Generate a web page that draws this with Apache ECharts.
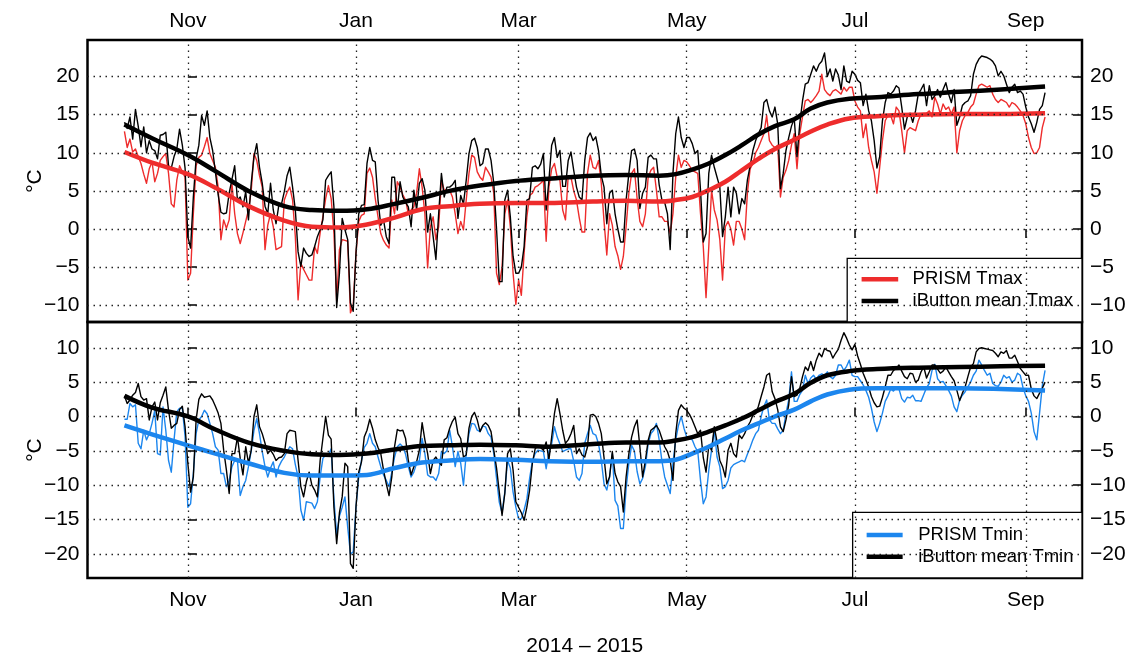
<!DOCTYPE html>
<html>
<head>
<meta charset="utf-8">
<script src="https://cdn.jsdelivr.net/npm/echarts@6/dist/echarts.min.js"></script>
<style>
html,body{margin:0;padding:0;background:#fff;}
#chart{width:1135px;height:660px;}
</style>
</head>
<body>
<div id="chart"></div>
<script>
// ---- data (day offsets counted from 1 Nov 2014) ----
const FIRST_DAY = -23; // 9 Oct 2014, first daily value
const monthTickDays = [0, 61, 120, 181, 242, 304];
const monthTickLabels = ['Nov', 'Jan', 'Mar', 'May', 'Jul', 'Sep'];
const tmaxTicks = [-10, -5, 0, 5, 10, 15, 20];
const tminTicks = [-20, -15, -10, -5, 0, 5, 10];
const xLabel = '2014 \u2013 2015';

const ibuttonTmaxDaily = [
14.0,13.2,14.7,11.8,15.7,13.5,10.8,13.4,10.0,11.6,
10.5,10.3,9.2,12.3,12.4,12.7,8.3,8.0,9.5,10.5,
13.1,11.0,8.0,-1.0,-2.5,4.2,9.2,11.0,14.9,13.6,
15.5,12.0,10.3,7.5,4.5,2.2,2.0,2.1,4.7,6.5,
8.3,3.8,4.2,2.9,4.9,1.2,6.0,9.5,11.2,8.1,
6.0,3.0,2.0,6.0,2.5,0.7,3.1,3.3,4.9,7.0,
8.1,5.5,2.5,-3.0,-4.9,-2.5,-3.2,-3.6,-3.4,-2.3,
-1.0,-0.1,1.2,6.4,7.0,7.5,2.9,-10.3,-5.8,1.4,
-0.1,-1.4,-9.7,-10.8,-3.2,2.0,3.1,3.2,8.6,10.7,
9.0,8.8,3.8,0.5,1.2,-1.0,-1.9,6.8,6.8,2.5,
6.2,4.2,3.5,2.9,0.3,5.1,2.5,6.0,6.6,5.1,
-0.4,2.0,-1.0,-4.0,2.0,7.3,4.2,5.5,5.5,5.8,
6.4,1.4,4.4,3.3,6.4,9.9,11.6,11.9,10.7,8.3,
8.6,10.5,10.5,9.0,6.0,0.0,-6.9,-6.9,3.8,5.1,
1.6,-3.6,-5.8,-5.8,-5.0,-2.3,3.8,4.0,8.1,8.3,
7.9,8.5,9.9,2.5,6.4,11.0,12.0,9.4,10.3,5.6,
5.6,9.0,10.1,7.7,5.5,4.2,3.8,9.0,12.0,12.6,
11.6,12.1,10.3,7.0,5.5,0.7,4.7,5.1,2.0,0.0,
-1.7,-1.7,3.8,7.3,10.3,10.5,9.0,2.7,4.7,5.5,
9.4,9.7,9.2,9.2,5.8,3.8,3.5,2.0,-2.7,7.3,
12.5,14.7,12.0,10.7,12.0,12.0,11.2,9.9,10.3,5.1,
-1.7,-0.6,7.3,9.7,8.1,6.8,5.5,-1.0,1.6,5.5,
1.6,5.5,4.7,2.0,4.0,3.3,6.4,8.3,10.3,11.6,
12.5,13.3,16.6,17.0,15.5,14.7,16.0,13.8,5.3,7.3,
10.3,12.0,13.5,14.5,9.5,13.8,16.8,19.0,19.2,20.3,
21.4,20.7,21.6,22.0,23.1,20.0,21.0,19.4,21.0,20.2,
18.3,21.4,19.4,19.2,20.7,20.3,19.5,19.2,16.2,17.7,
15.5,14.2,11.6,8.0,9.5,14.2,16.6,17.9,17.7,18.1,
18.8,18.5,16.0,13.1,14.7,15.2,14.0,15.5,17.7,18.3,
19.0,16.2,18.8,17.0,17.5,18.3,17.3,18.3,19.2,17.7,
16.6,18.3,13.6,14.7,16.2,16.6,16.8,17.5,20.3,21.6,
22.3,22.7,22.6,22.5,22.3,22.0,21.4,20.1,20.7,20.1,
19.0,17.9,18.6,19.0,17.9,18.1,17.7,16.0,14.7,13.8,
12.7,14.0,15.7,16.2,17.9
];

const prismTmaxDaily = [
12.8,10.7,11.8,10.1,10.5,9.5,8.6,7.2,6.0,7.9,
8.8,6.2,7.3,9.0,9.5,9.9,7.3,3.3,2.9,6.4,
8.3,7.5,6.8,-6.7,-5.8,2.0,8.3,9.4,9.7,10.8,
12.0,9.9,9.0,8.1,5.5,-1.4,1.2,0.1,1.2,6.0,
2.0,-0.6,-1.9,-0.5,1.0,2.5,5.0,9.9,9.0,7.0,
5.5,-2.7,0.5,2.0,0.3,-2.7,-2.5,-2.3,3.8,4.8,
5.5,3.8,-1.0,-9.3,-4.5,-5.3,-6.0,-6.7,-6.7,-2.3,
-3.2,-0.5,1.6,4.0,5.7,4.0,-0.5,-9.5,-2.7,-1.4,
-1.5,-1.6,-11.0,-10.1,-3.2,1.0,1.8,2.0,7.3,8.0,
6.8,4.0,1.6,-0.6,-1.5,-2.1,-2.5,3.8,2.0,6.2,
5.5,4.5,3.8,2.0,2.5,2.9,4.7,7.9,5.5,2.0,
-5.1,0.3,1.6,-1.4,0.3,6.4,5.1,5.1,5.1,4.2,
2.0,-0.6,1.0,-0.1,3.8,7.3,9.7,9.4,7.5,6.8,
6.4,8.1,7.5,6.8,4.7,-5.8,-7.3,-5.0,2.0,3.8,
0.3,-5.8,-9.9,-6.7,-8.7,-3.2,1.6,4.4,4.7,5.5,
5.7,6.0,6.4,-1.6,5.5,7.9,8.6,6.8,6.4,2.5,
1.2,7.0,6.8,5.0,3.8,1.5,-0.4,-0.4,7.3,9.7,
8.1,7.9,9.0,6.0,1.0,-3.4,2.0,0.5,-2.3,-3.5,
-5.3,-3.6,0.3,4.7,7.3,7.9,4.0,1.0,0.3,2.0,
6.8,7.7,8.1,5.1,1.6,1.6,1.0,1.0,-0.6,2.0,
6.8,9.7,8.1,9.0,8.8,8.3,7.7,7.5,7.3,2.0,
-2.3,-9.0,-2.3,5.1,2.5,1.2,-1.4,-6.7,0.3,1.0,
0.0,-2.1,1.0,1.0,0.0,-1.4,4.7,7.9,8.6,10.0,
10.7,11.6,12.5,14.9,11.6,11.0,10.7,11.0,4.2,6.8,
7.7,9.0,11.0,12.5,7.9,12.5,14.7,16.8,17.0,16.6,
17.0,17.5,18.1,20.3,18.3,17.8,17.5,18.1,18.3,18.0,
17.7,18.6,18.1,18.6,18.6,16.8,16.0,15.5,12.0,13.8,
10.7,9.0,7.5,4.7,8.1,11.6,14.2,14.9,14.9,13.8,
16.0,15.5,12.9,10.0,12.9,13.3,13.1,12.9,14.2,15.1,
14.9,15.2,15.5,14.7,17.3,16.4,15.1,16.4,15.7,16.0,
15.1,16.0,10.0,12.9,14.2,14.9,15.3,16.0,16.4,17.7,
18.8,19.0,18.8,18.6,18.8,17.7,17.0,16.6,17.0,16.8,
16.6,16.0,16.6,16.4,16.0,15.5,14.9,13.8,12.0,10.7,
9.9,10.0,10.7,13.3,14.7
];

const ibuttonTminDaily = [
3.0,1.9,2.4,3.1,3.5,4.8,2.9,2.4,2.6,-0.5,
1.4,2.1,-0.5,2.0,3.1,4.3,0.9,-1.7,-1.3,-1.0,
1.0,1.5,-1.5,-6.8,-11.0,-8.8,-0.5,2.5,3.3,2.8,
2.9,3.0,2.4,1.5,0.5,-1.0,-4.9,-7.8,-11.2,-5.4,
-5.4,-3.0,-6.1,-8.5,-4.4,-6.8,-4.9,0.0,1.7,-1.5,
-2.5,-3.9,-5.4,-4.9,-5.5,-6.4,-6.0,-5.9,-5.4,-2.5,
-2.0,-2.1,-2.2,-6.4,-10.2,-11.7,-9.5,-8.1,-10.0,-10.7,
-11.7,-6.4,-3.2,0.0,-2.7,-3.3,-13.2,-18.5,-14.0,-11.7,
-6.8,-7.3,-21.4,-22.1,-13.2,-8.1,-6.6,-3.0,-2.0,-0.4,
-1.7,-3.4,-4.5,-5.4,-7.8,-9.8,-11.5,-8.8,-4.4,-1.9,
-2.1,-2.0,-3.2,-6.4,-8.5,-7.3,-6.6,-4.9,-0.9,-3.4,
-5.4,-8.3,-6.4,-5.9,-6.6,-7.1,-3.4,-3.1,-1.7,-0.7,
-0.1,-2.5,-3.2,-5.9,-5.6,-1.7,0.0,0.6,-0.5,-2.2,
-1.3,-0.9,-1.3,-2.2,-4.9,-7.5,-11.0,-14.4,-11.2,-5.4,
-4.7,-7.8,-12.4,-13.2,-14.0,-15.1,-13.2,-10.7,-6.8,-4.7,
-4.3,-4.5,-4.9,-3.7,-6.3,-3.0,0.4,2.6,0.4,-2.0,
-3.9,-3.4,-2.5,-1.3,-5.4,-4.7,-5.6,-5.9,-4.4,0.2,
0.3,0.0,-1.0,-2.5,-6.0,-9.8,-8.8,-5.1,-8.3,-9.5,
-10.2,-13.9,-8.8,-5.4,-3.0,-1.5,-0.5,-4.4,-8.8,-6.4,
-3.5,-2.0,-1.7,-1.3,-2.0,-3.2,-4.4,-5.1,-6.4,-9.3,
-2.5,0.9,1.7,1.2,0.9,0.3,-0.5,-1.5,-2.5,-2.0,
-6.0,-8.1,-4.2,-4.9,-1.5,-3.7,-6.4,-7.3,-8.8,-4.9,
-3.9,-5.4,-5.9,-2.7,-3.2,-2.5,-1.5,-0.8,0.2,0.4,
1.5,2.9,4.3,6.0,6.3,3.6,2.6,1.0,-1.5,-2.2,
-0.5,1.7,5.8,2.9,3.1,4.1,5.8,7.2,6.7,8.0,
6.7,8.2,9.2,8.7,9.9,9.6,9.5,8.5,9.2,9.8,
11.1,12.2,11.4,10.4,9.7,10.5,8.8,7.6,6.3,5.3,
4.3,2.9,2.0,1.4,1.5,2.8,4.3,6.0,6.0,6.7,
7.0,7.5,6.6,5.8,5.5,6.3,6.2,5.0,5.3,6.5,
7.2,5.6,6.5,7.5,7.5,6.9,6.3,6.6,7.2,6.5,
5.8,5.2,3.8,2.3,3.4,4.3,5.8,7.2,7.7,9.4,
9.9,10.0,9.9,9.8,9.7,9.6,9.2,8.7,9.4,9.2,
9.6,8.5,8.5,8.9,8.0,7.0,6.5,6.0,6.0,4.0,
3.0,2.6,3.4,4.1,5.0
];

const prismTminDaily = [
-0.4,-0.4,1.9,1.4,1.7,-3.9,-4.7,-2.0,-3.4,-2.5,
-1.0,0.9,-5.4,-5.6,1.4,-2.0,-6.4,-8.1,-3.4,0.7,
1.2,1.2,-2.9,-13.2,-12.7,-8.3,-2.5,-0.5,0.0,0.9,
0.4,-1.0,-2.5,-4.4,-4.9,-8.3,-8.3,-10.2,-9.3,-7.3,
-6.4,-6.4,-11.5,-10.2,-9.3,-7.3,-5.0,-2.0,-0.3,-2.5,
-5.1,-7.3,-8.8,-7.5,-6.6,-8.8,-7.3,-6.5,-5.9,-5.1,
-4.4,-4.7,-7.0,-8.8,-13.6,-15.1,-12.4,-12.5,-12.6,-13.4,
-12.4,-8.8,-6.1,-5.6,-5.6,-4.7,-12.0,-17.2,-14.5,-13.2,
-11.7,-16.1,-20.0,-19.7,-13.2,-8.8,-6.4,-4.5,-3.9,-2.5,
-3.9,-4.4,-5.9,-7.3,-8.5,-9.3,-10.2,-8.1,-5.9,-4.4,
-4.0,-4.4,-5.5,-7.3,-8.8,-8.1,-6.8,-6.4,-3.2,-5.4,
-8.5,-8.8,-8.8,-9.3,-8.3,-5.1,-5.4,-5.0,-2.0,-4.4,
-7.3,-5.1,-6.8,-10.0,-5.4,-2.5,-1.0,-1.1,-2.0,-2.2,
-1.4,-1.5,-2.5,-3.0,-5.4,-9.0,-12.5,-14.0,-11.0,-6.4,
-7.5,-11.0,-13.2,-14.9,-14.9,-13.6,-12.0,-9.0,-6.5,-5.4,
-4.9,-5.0,-5.1,-7.6,-5.1,-4.0,-1.5,-3.0,-4.0,-5.1,
-4.9,-4.7,-4.7,-6.5,-8.8,-9.3,-8.3,-3.9,-2.5,-1.3,
-2.5,-2.7,-4.0,-6.4,-9.8,-10.7,-8.8,-5.4,-12.2,-13.0,
-16.3,-16.3,-10.5,-6.8,-4.2,-5.0,-8.0,-9.8,-9.0,-7.3,
-4.0,-2.5,-2.0,-1.0,-3.4,-6.5,-8.8,-10.0,-11.2,-6.8,
-3.4,-1.3,0.0,-1.7,-3.0,-3.2,-3.4,-4.4,-5.1,-9.3,
-12.7,-11.7,-7.8,-4.9,-2.0,-5.9,-7.3,-10.5,-10.2,-9.3,
-7.5,-7.0,-6.8,-6.6,-6.4,-6.6,-5.5,-4.5,-3.4,-2.5,
-2.0,0.0,1.5,2.4,-0.5,-1.0,-1.0,-1.8,-2.5,-2.0,
0.4,2.4,6.5,2.2,2.2,3.2,3.8,6.0,4.8,5.6,
6.0,5.4,6.0,6.2,6.0,6.5,5.8,5.5,6.0,7.5,
7.5,6.7,7.3,8.2,6.0,5.8,5.8,5.2,4.6,3.8,
2.8,1.2,-0.8,-2.2,-1.0,0.5,2.2,3.0,4.0,3.7,
4.2,4.0,2.6,2.1,2.8,2.7,3.1,2.3,2.3,2.2,
3.2,4.2,4.8,6.7,7.6,5.5,5.0,5.1,4.5,3.8,
3.0,1.4,0.7,2.4,3.1,3.6,4.3,5.0,6.0,6.6,
8.2,7.5,6.7,6.0,6.3,4.8,4.5,4.4,5.0,6.0,
5.6,5.8,5.0,5.3,6.3,6.0,4.2,3.0,2.2,0.5,
-2.2,-3.4,0.5,4.5,6.7
];

// smoothed curves, read at these days
const smoothDays = [-23,-13,0,10,22,35,45,55,65,75,85,95,106,119,131,147,159,171,177,183,189,195,201,207,213,220,226,232,240,250,265,280,295,311];
const ibuttonTmaxSmooth = [13.7,11.9,9.7,7.6,5.0,3.0,2.5,2.4,2.6,3.3,4.1,5.0,5.7,6.3,6.6,7.0,7.1,7.0,7.2,7.8,8.6,9.7,11.0,12.4,13.5,14.4,15.8,16.6,17.1,17.3,17.7,18.0,18.3,18.7];
const prismTmaxSmooth   = [10.1,8.7,7.2,5.4,3.0,1.1,0.3,0.2,0.6,1.5,2.6,3.0,3.3,3.4,3.4,3.6,3.7,3.6,3.8,4.2,5.1,6.2,7.7,9.2,10.5,11.7,12.8,13.7,14.5,14.8,15.0,15.1,15.1,15.2];
const ibuttonTminSmooth = [3.0,1.3,0.0,-1.9,-3.8,-5.0,-5.5,-5.6,-5.4,-4.8,-4.3,-4.2,-4.1,-4.2,-4.4,-4.0,-3.8,-3.8,-3.5,-3.0,-2.2,-1.3,-0.3,0.9,2.1,3.3,4.9,6.0,6.6,6.9,7.1,7.2,7.3,7.4];
const prismTminSmooth   = [-1.3,-2.6,-4.2,-5.4,-6.8,-8.2,-8.6,-8.6,-8.5,-7.5,-6.7,-6.4,-6.2,-6.3,-6.5,-6.6,-6.5,-6.5,-6.3,-5.4,-4.4,-3.2,-2.0,-1.0,0.0,1.0,2.2,3.2,3.9,4.1,4.1,4.1,4.0,3.8];

// ---- chart ----
const RED = '#EE2C2C', BLUE = '#1C86EE', BLACK = '#000000';
const FONT = '"Liberation Sans", Arial, Helvetica, sans-serif';
const AX_FS = 21;
const daily = arr => arr.map((v, i) => [FIRST_DAY + i, v]);
const knots = arr => smoothDays.map((d, i) => [d, arr[i]]);
const minus = v => String(v).replace('-', '\u2212');

const X_MIN = -36.4, X_MAX = 324.4;
const TOP_Y = [-12.2, 24.8];
const BOT_Y = [-23.5, 13.75];

const tickStyle = {color: '#000', width: 1.5};
function xAxisDef(grid, pos, margin, extra) {
  return Object.assign({
    gridIndex: grid, type: 'value', position: pos, min: X_MIN, max: X_MAX,
    axisLine: {show: false},
    axisTick: {show: true, inside: true, length: 9, customValues: monthTickDays, lineStyle: tickStyle},
    axisLabel: {customValues: monthTickDays, color: '#000', fontSize: AX_FS, fontFamily: FONT, margin: margin,
      formatter: v => monthTickLabels[monthTickDays.indexOf(v)] || ''},
    splitLine: {show: false}
  }, extra || {});
}
function yAxisDef(grid, pos, range, ticks, extra) {
  return Object.assign({
    gridIndex: grid, type: 'value', position: pos, min: range[0], max: range[1],
    axisLine: {show: false},
    axisTick: {show: true, inside: true, length: 9, customValues: ticks, lineStyle: tickStyle},
    axisLabel: {customValues: ticks, color: '#000', fontSize: AX_FS, fontFamily: FONT, margin: 8, formatter: minus},
    splitLine: {show: false}
  }, extra || {});
}
const gridLineStyle = {type: [1.5, 4.5], color: '#222', width: 1.3};
function gridMarks(ticks) {
  return {
    silent: true, symbol: ['none', 'none'], label: {show: false}, animation: false,
    lineStyle: gridLineStyle, emphasis: {disabled: true},
    data: ticks.map(v => ({yAxis: v})).concat(monthTickDays.map(d => ({xAxis: d})))
  };
}
function lineSeries(name, data, color, width, xi, yi, opts) {
  return Object.assign({
    name, type: 'line', data, xAxisIndex: xi, yAxisIndex: yi, symbol: 'none',
    lineStyle: {color, width, join: 'round'}, itemStyle: {color},
    emphasis: {disabled: true}, animation: false
  }, opts || {});
}
const nameStyle = {color: '#000', fontSize: AX_FS, fontFamily: FONT};
const legendText = {fontSize: 18.5, fontFamily: FONT, color: '#000', lineHeight: 21.7};
const yName = {name: '\u00B0C', nameLocation: 'middle', nameRotate: 90, nameGap: 42, nameMoveOverlap: false, nameTextStyle: nameStyle};

const option = {
  backgroundColor: '#fff',
  animation: false,
  grid: [
    {left: 87.5, right: 53, top: 40, height: 282, show: true, borderColor: '#000', borderWidth: 2.5, backgroundColor: 'transparent'},
    {left: 87.5, right: 53, top: 322, height: 256, show: true, borderColor: '#000', borderWidth: 2.5, backgroundColor: 'transparent'}
  ],
  xAxis: [
    xAxisDef(0, 'top', 8),
    xAxisDef(1, 'bottom', 12, {name: xLabel, nameLocation: 'middle', nameGap: 58, nameTextStyle: nameStyle})
  ],
  yAxis: [
    yAxisDef(0, 'left', TOP_Y, tmaxTicks, yName),
    yAxisDef(0, 'right', TOP_Y, tmaxTicks),
    yAxisDef(1, 'left', BOT_Y, tminTicks, yName),
    yAxisDef(1, 'right', BOT_Y, tminTicks)
  ],
  legend: [
    {data: ['PRISM Tmax', 'iButton mean Tmax'], orient: 'vertical', right: 53, top: 258.3,
     padding: [10.15, 9, 10.15, 14.4], itemGap: 0, itemWidth: 36.6, itemHeight: 4.5, icon: 'rect',
     backgroundColor: '#fff', borderColor: '#000', borderWidth: 1.3, borderRadius: 0,
     textStyle: Object.assign({padding: [0, 0, 0, 9.4]}, legendText),
     selectedMode: false},
    {data: ['PRISM Tmin', 'iButton mean Tmin'], orient: 'vertical', right: 53, top: 512.3,
     padding: [11.85, 8.5, 10.45, 14], itemGap: 0, itemWidth: 36, itemHeight: 4.5, icon: 'rect',
     backgroundColor: '#fff', borderColor: '#000', borderWidth: 1.3, borderRadius: 0,
     textStyle: Object.assign({padding: [0, 0, 0, 10.6]}, legendText),
     selectedMode: false}
  ],
  series: [
    lineSeries('PRISM Tmax daily', daily(prismTmaxDaily), RED, 1.4, 0, 0, {markLine: gridMarks(tmaxTicks), z: 2}),
    lineSeries('iButton Tmax daily', daily(ibuttonTmaxDaily), BLACK, 1.4, 0, 0, {z: 3}),
    lineSeries('PRISM Tmax', knots(prismTmaxSmooth), RED, 4.5, 0, 0, {smooth: 0.4, z: 4}),
    lineSeries('iButton mean Tmax', knots(ibuttonTmaxSmooth), BLACK, 4.5, 0, 0, {smooth: 0.4, z: 5}),
    lineSeries('PRISM Tmin daily', daily(prismTminDaily), BLUE, 1.4, 1, 2, {markLine: gridMarks(tminTicks), z: 2}),
    lineSeries('iButton Tmin daily', daily(ibuttonTminDaily), BLACK, 1.4, 1, 2, {z: 3}),
    lineSeries('PRISM Tmin', knots(prismTminSmooth), BLUE, 4.5, 1, 2, {smooth: 0.4, z: 4}),
    lineSeries('iButton mean Tmin', knots(ibuttonTminSmooth), BLACK, 4.5, 1, 2, {smooth: 0.4, z: 5})
  ]
};
const chart = echarts.init(document.getElementById('chart'), null, {renderer: 'canvas'});
chart.setOption(option);
</script>
</body>
</html>
